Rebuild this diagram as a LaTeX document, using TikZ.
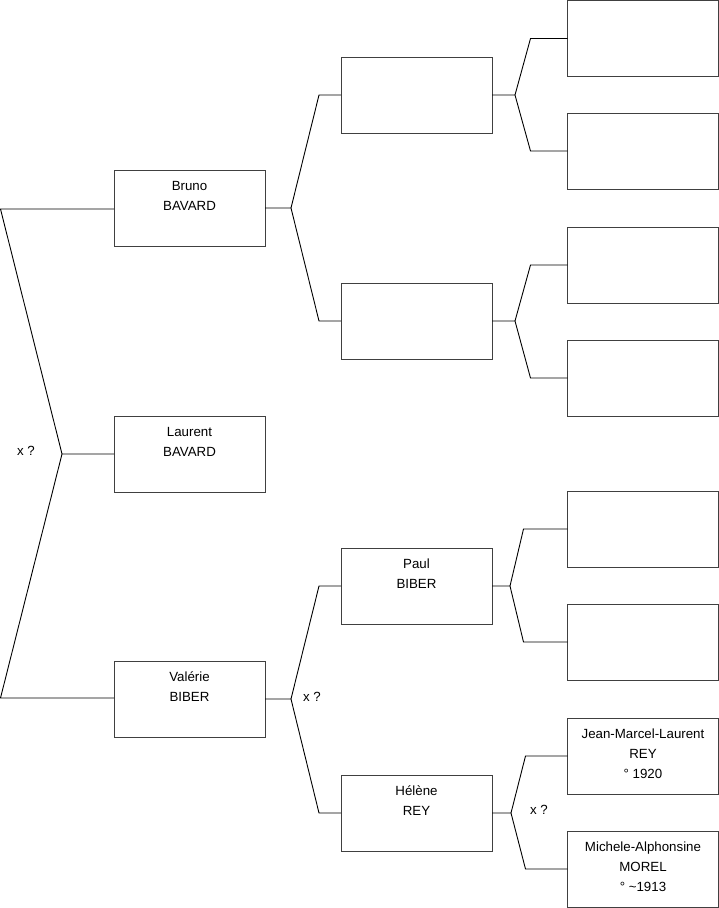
\documentclass[tikz,border=0pt]{standalone}
\usepackage{fontspec}
\setmainfont{Liberation Sans}
\newcommand{\pcontent}[1]{\begin{minipage}[c][76pt][t]{151pt}\centering\fontsize{13.3}{20}\selectfont\rule{0pt}{20.5pt}#1\end{minipage}}
\tikzset{
  x=1pt, y=-1pt,
  pbox/.style={draw=black!75, line width=1pt, inner sep=0pt, outer sep=0pt, rectangle, fill=white},
  conn/.style={draw=black, line width=0.9pt},
  xq/.style={font=\fontsize{13.3}{15}\selectfont, inner sep=0pt}
}
\begin{document}
\begin{tikzpicture}
\useasboundingbox (0,0) rectangle (719,908);
% generation 1
\node[pbox] (bruno) at (189.5,208) {\pcontent{Bruno\\BAVARD}};
\node[pbox] (laurent) at (189.5,454) {\pcontent{Laurent\\BAVARD}};
\node[pbox] (valerie) at (189.5,699) {\pcontent{Valérie\\BIBER}};
% generation 2
\node[pbox] (ga) at (416.5,95) {\pcontent{}};
\node[pbox] (gb) at (416.5,321) {\pcontent{}};
\node[pbox] (paul) at (416.5,586) {\pcontent{Paul\\BIBER}};
\node[pbox] (helene) at (416.5,813) {\pcontent{Hélène\\REY}};
% generation 3
\node[pbox] (h1) at (643,38.5) {\pcontent{}};
\node[pbox] (h2) at (643,151) {\pcontent{}};
\node[pbox] (h3) at (643,265) {\pcontent{}};
\node[pbox] (h4) at (643,378) {\pcontent{}};
\node[pbox] (h5) at (643,529) {\pcontent{}};
\node[pbox] (h6) at (643,642) {\pcontent{}};
\node[pbox] (jean) at (643,756) {\pcontent{Jean-Marcel-Laurent\\REY\\° 1920}};
\node[pbox] (michele) at (643,869) {\pcontent{Michele-Alphonsine\\MOREL\\° \textasciitilde 1913}};
% left bracket
\coordinate (l1) at (0.5,209);
\coordinate (j0) at (62,454);
\coordinate (l2) at (0.5,698);
\draw[conn] (bruno.west |- l1) -- (l1) -- (j0) -- (laurent.west);
\draw[conn] (j0) -- (l2) -- (valerie.west |- l2);
\node[xq] (x0) at (26,451) {x ?};
% gen1 -> gen2
\coordinate (j1) at (291,208);
\draw[conn] (bruno.east) -- (j1) -- ([xshift=-22pt]ga.west) -- (ga.west);
\draw[conn] (j1) -- ([xshift=-22pt]gb.west) -- (gb.west);
\coordinate (j2) at (291,699);
\draw[conn] (valerie.east) -- (j2) -- ([xshift=-22pt]paul.west) -- (paul.west);
\draw[conn] (j2) -- ([xshift=-22pt]helene.west) -- (helene.west);
\node[xq] (x1) at (312,697) {x ?};
% gen2 -> gen3
\coordinate (j3) at (515,95);
\draw[conn] (ga.east) -- (j3) -- ([xshift=-37pt]h1.west) -- (h1.west);
\draw[conn] (j3) -- ([xshift=-37pt]h2.west) -- (h2.west);
\coordinate (j4) at (515,321);
\draw[conn] (gb.east) -- (j4) -- ([xshift=-37pt]h3.west) -- (h3.west);
\draw[conn] (j4) -- ([xshift=-37pt]h4.west) -- (h4.west);
\coordinate (j5) at (510,586);
\draw[conn] (paul.east) -- (j5) -- ([xshift=-44pt]h5.west) -- (h5.west);
\draw[conn] (j5) -- ([xshift=-44pt]h6.west) -- (h6.west);
\coordinate (j6) at (511,813);
\draw[conn] (helene.east) -- (j6) -- ([xshift=-42pt]jean.west) -- (jean.west);
\draw[conn] (j6) -- ([xshift=-42pt]michele.west) -- (michele.west);
\node[xq] (x2) at (539,810) {x ?};
\end{tikzpicture}
\end{document}
